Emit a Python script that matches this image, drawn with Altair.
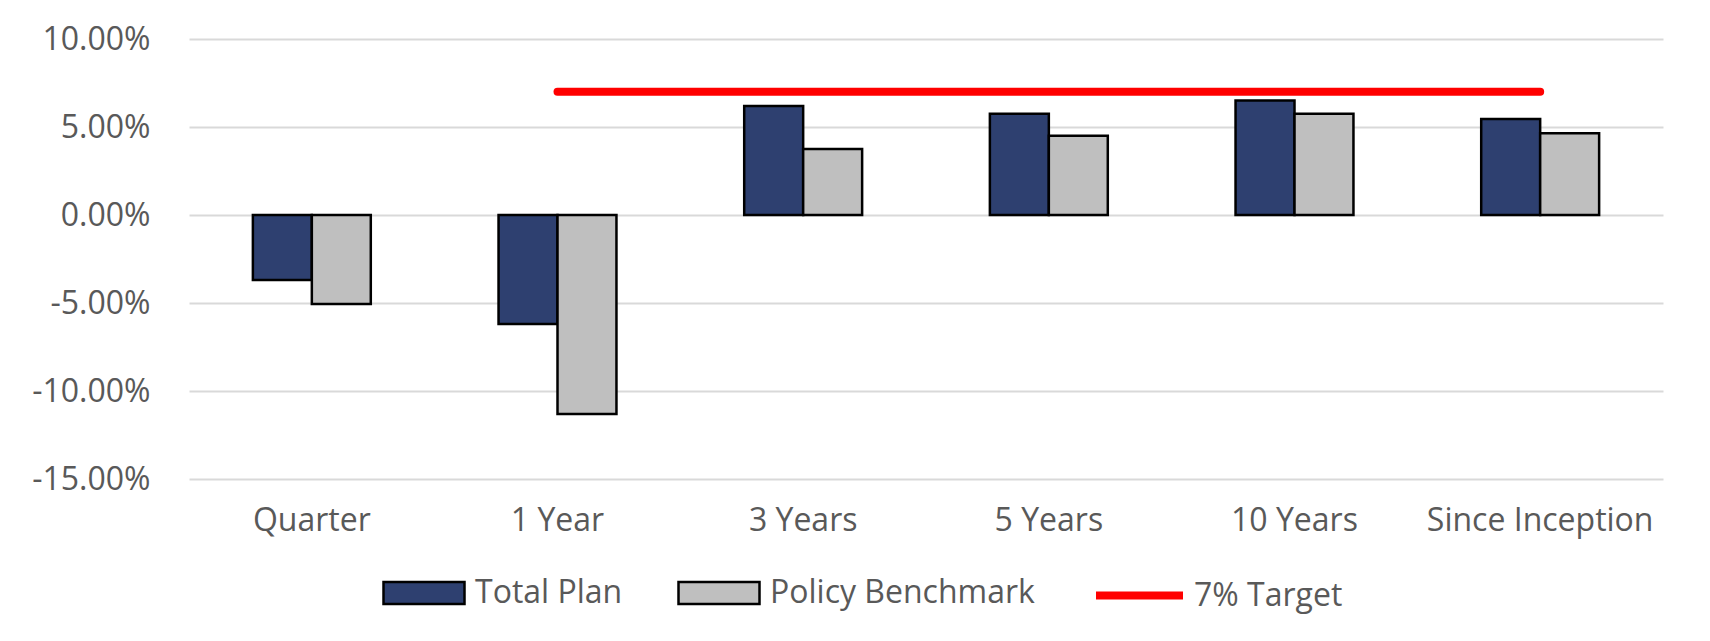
import altair as alt
import pandas as pd

categories = ["Quarter", "1 Year", "3 Years", "5 Years", "10 Years", "Since Inception"]
total_plan = [-3.70, -6.20, 6.20, 5.75, 6.50, 5.45]
policy_benchmark = [-5.05, -11.30, 3.75, 4.50, 5.75, 4.65]
series_names = ["Total Plan", "Policy Benchmark"]
series_colors = ["#2E4070", "#BFBFBF"]
target_name = "7% Target"
target_categories = ["1 Year", "3 Years", "5 Years", "10 Years", "Since Inception"]
target_values = [7.0, 7.0, 7.0, 7.0, 7.0]
y_ticks = [-15, -10, -5, 0, 5, 10]

rows = []
for c, a, b in zip(categories, total_plan, policy_benchmark):
    rows.append({"category": c, "series": series_names[0], "value": a})
    rows.append({"category": c, "series": series_names[1], "value": b})
bars_df = pd.DataFrame(rows)
target_df = pd.DataFrame({"category": target_categories, "value": target_values, "name": target_name})

FONT = "Open Sans"
LABEL_COLOR = "#595959"
FS = 32

y_scale = alt.Scale(domain=[-15, 10], nice=False, zero=True)

bars = alt.Chart(bars_df).mark_bar(stroke="black", strokeWidth=2.5).encode(
    x=alt.X("category:N", sort=categories,
            scale=alt.Scale(domain=categories, paddingInner=0.52, paddingOuter=0.26),
            axis=alt.Axis(title=None, labelAngle=0, domain=False, ticks=False, grid=False,
                          labelFontSize=FS, labelFont=FONT, labelColor=LABEL_COLOR,
                          labelPadding=26, labelLimit=0)),
    xOffset=alt.XOffset("series:N", sort=series_names,
                        scale=alt.Scale(domain=series_names, paddingInner=0, paddingOuter=0)),
    y=alt.Y("value:Q", scale=y_scale,
            axis=alt.Axis(title=None, values=y_ticks, domain=False, ticks=False,
                          gridColor="#D9D9D9", gridWidth=2,
                          labelExpr="(datum.value < 0 ? '-' : '') + format(abs(datum.value) / 100, '.2%')",
                          labelFontSize=FS, labelFont=FONT, labelColor=LABEL_COLOR,
                          labelPadding=39, labelLimit=0)),
    fill=alt.Fill("series:N", sort=series_names,
                  scale=alt.Scale(domain=series_names, range=series_colors),
                  legend=alt.Legend(orient="none", legendX=193, legendY=512, direction="horizontal",
                                    title=None, symbolType="M-1,-0.27H1V0.27H-1Z",
                                    symbolSize=6561, symbolStrokeColor="black",
                                    symbolStrokeWidth=2.5, symbolOpacity=1,
                                    labelFontSize=FS, labelFont=FONT, labelColor=LABEL_COLOR,
                                    labelOffset=9, columnPadding=50, labelLimit=0)),
)

line = alt.Chart(target_df).mark_line(strokeWidth=8, strokeCap="round").encode(
    x=alt.X("category:N", sort=categories),
    y=alt.Y("value:Q", scale=y_scale),
    stroke=alt.Stroke("name:N", scale=alt.Scale(domain=[target_name], range=["#FF0000"]),
                      legend=alt.Legend(orient="none", legendX=903, legendY=509, title=None,
                                        symbolType="stroke", symbolSize=7569,
                                        symbolStrokeWidth=8,
                                        labelFontSize=FS, labelFont=FONT, labelColor=LABEL_COLOR,
                                        labelOffset=7, labelLimit=0)),
)

chart = alt.layer(bars, line).properties(
    width=1474, height=440,
    autosize=alt.AutoSizeParams(type="none"),
    padding={"left": 181, "top": 31, "right": 30, "bottom": 150},
).configure_view(strokeWidth=0)

chart.save("out.html", embed_options={"renderer": "svg", "actions": False})
